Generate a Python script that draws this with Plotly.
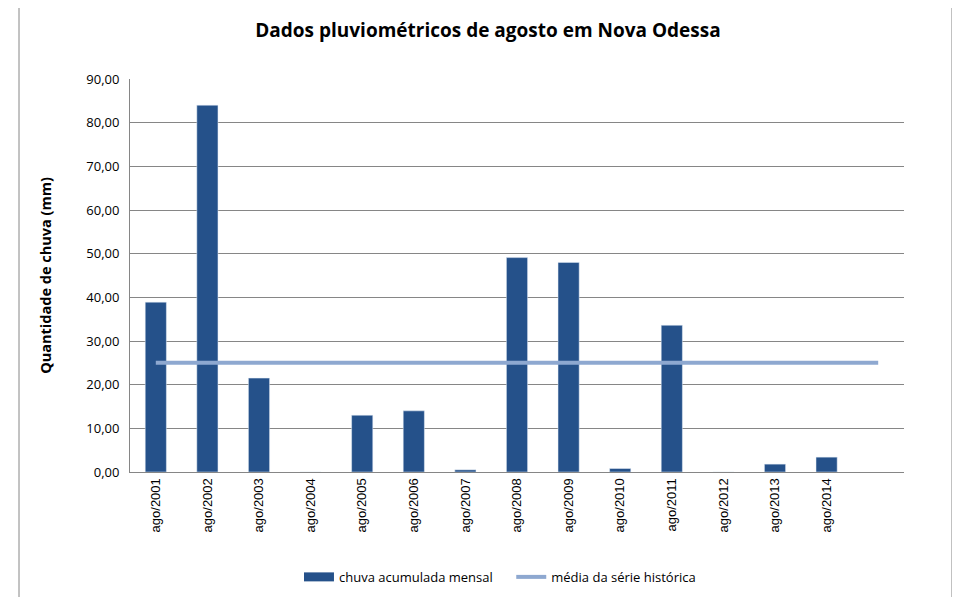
import plotly.graph_objects as go

categories = ["ago/2001", "ago/2002", "ago/2003", "ago/2004", "ago/2005", "ago/2006", "ago/2007",
              "ago/2008", "ago/2009", "ago/2010", "ago/2011", "ago/2012", "ago/2013", "ago/2014", ""]
chuva = [38.9, 84.0, 21.5, 0.0, 13.0, 14.0, 0.5, 49.1, 48.0, 0.8, 33.6, 0.0, 1.8, 3.4, None]
media = [25.0] * 15
y_ticks = [0, 10, 20, 30, 40, 50, 60, 70, 80, 90]

xpos = list(range(1, len(categories) + 1))
bar_color = "#25518A"
line_color = "#8EA8D0"

fig = go.Figure()
fig.add_trace(go.Bar(x=xpos, y=chuva, name="chuva acumulada mensal", marker_color=bar_color,
                     width=0.41, showlegend=False, legendgroup="c"))
# legend entry styled as a wide block (like the original)
fig.add_trace(go.Scatter(x=[None], y=[None], name="chuva acumulada mensal    ", mode="lines",
                         line=dict(color=bar_color, width=9), legendgroup="c"))
fig.add_trace(go.Scatter(x=xpos, y=media, name="média da série histórica", mode="lines",
                         line=dict(color=line_color, width=4)))

fig.update_layout(
    width=960, height=597,
    margin=dict(l=122, r=64, t=71, b=133, autoexpand=False),
    paper_bgcolor="white", plot_bgcolor="white",
    separators=",.",
    title=dict(text="<b>Dados pluviométricos de agosto em Nova Odessa</b>", x=0.5, xanchor="center",
               y=0.963, yanchor="middle", font=dict(family="Open Sans, sans-serif", size=19, color="black")),
    font=dict(family="Open Sans, sans-serif", size=13, color="black"),
    showlegend=True,
    legend=dict(orientation="h", x=0.478, xanchor="center", y=-0.267, yanchor="middle",
                font=dict(size=13), traceorder="normal", itemwidth=30),
    bargap=0.6,
)
fig.update_xaxes(range=[0.5, 15.5], tickmode="array", tickvals=xpos, ticktext=categories,
                 tickangle=-90, showgrid=False, showline=True, linecolor="#868686", linewidth=1,
                 ticks="", tickfont=dict(family="Liberation Sans, Arial, sans-serif", size=13),
                 zeroline=False, automargin=False)
fig.update_yaxes(range=[0, 90], tickmode="array", tickvals=y_ticks, tickformat=".2f",
                 showgrid=True, gridcolor="#868686", gridwidth=1, showline=True, linecolor="#868686",
                 linewidth=1, ticks="", zeroline=False, tickfont=dict(size=13), automargin=False,
                 ticklabelstandoff=7,
                 title=dict(text="<b>Quantidade de chuva (mm)</b>", font=dict(size=14.5), standoff=31))
# chart frame
fig.add_shape(type="rect", xref="paper", yref="paper", x0=-0.1434, x1=1.062, y0=-0.4, y1=1.19,
              line=dict(color="#868686", width=1), layer="below")

fig.write_html("out.html")
